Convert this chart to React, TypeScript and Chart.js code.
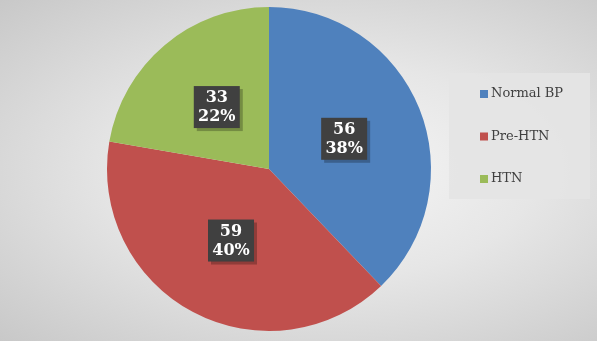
import React, { useEffect, useRef } from "react";
import { Chart, registerables } from "chart.js";

Chart.register(...registerables);

const categories = ["Normal BP", "Pre-HTN", "HTN"];
const values = [56, 59, 33];
const percentLabels = ["38%", "40%", "22%"];
const colors = ["#4F81BD", "#C0504D", "#9BBB59"];

const labelPlugin = {
  id: "boxLabels",
  afterDatasetsDraw(chart: any) {
    const ctx = chart.ctx;
    const meta = chart.getDatasetMeta(0);
    ctx.save();
    meta.data.forEach((arc: any, i: number) => {
      const p = arc.tooltipPosition();
      const w = 46, h = 42;
      const x = p.x - w / 2, y = p.y - h / 2;
      ctx.fillStyle = "rgba(0,0,0,0.25)";
      ctx.fillRect(x + 3, y + 3, w, h);
      ctx.fillStyle = "#404040";
      ctx.fillRect(x, y, w, h);
      ctx.fillStyle = "#ffffff";
      ctx.font = "bold 16px 'DejaVu Serif', serif";
      ctx.textAlign = "center";
      ctx.textBaseline = "middle";
      ctx.fillText(String(values[i]), p.x, p.y - 9);
      ctx.fillText(percentLabels[i], p.x, p.y + 10);
    });
    ctx.restore();
  },
};

const legendPlugin = {
  id: "boxLegend",
  beforeDatasetsDraw(chart: any) {
    const ctx = chart.ctx;
    ctx.save();
    ctx.fillStyle = "rgba(228,228,228,0.9)";
    ctx.fillRect(449, 73, 141, 126);
    ctx.font = "13px 'DejaVu Serif', serif";
    ctx.textAlign = "left";
    ctx.textBaseline = "middle";
    categories.forEach((c, i) => {
      const cy = 94 + i * 42.5;
      ctx.fillStyle = colors[i];
      ctx.fillRect(480, cy - 4, 8, 8);
      ctx.fillStyle = "#404040";
      ctx.fillText(c, 491, cy);
    });
    ctx.restore();
  },
};

export default function App() {
  const ref = useRef<HTMLCanvasElement>(null);
  useEffect(() => {
    document.body.style.margin = "0";
    const chart = new Chart(ref.current!, {
      type: "pie",
      data: {
        labels: categories,
        datasets: [
          {
            data: values,
            backgroundColor: colors,
            borderWidth: 0,
          },
        ],
      },
      options: {
        animation: false,
        responsive: false,
        layout: { padding: { left: 107, right: 166, top: 7, bottom: 10 } },
        plugins: { legend: { display: false }, tooltip: { enabled: false } },
      },
      plugins: [legendPlugin, labelPlugin],
    });
    return () => chart.destroy();
  }, []);
  return (
    <div
      style={{
        position: "fixed",
        left: 0,
        top: 0,
        width: 597,
        height: 341,
        background:
          "radial-gradient(ellipse at 55% 50%, #f6f6f6 0%, #e6e6e6 45%, #c8c8c8 100%)",
      }}
    >
      <canvas ref={ref} width={597} height={341} />
    </div>
  );
}
